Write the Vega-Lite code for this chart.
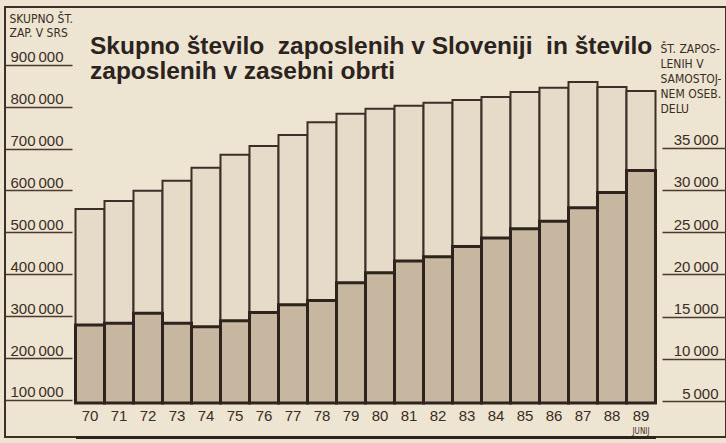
{
  "$schema": "https://vega.github.io/schema/vega-lite/v6.json",
  "width": 721,
  "height": 430,
  "autosize": {"type": "none"},
  "padding": {"left": 5, "top": 7, "right": 0, "bottom": 6},
  "background": "#eee4d2",
  "view": {"stroke": "#3b2f27", "strokeWidth": 2},
  "title": {
    "text": ["Skupno število\u00a0 zaposlenih v Sloveniji\u00a0 in število", "zaposlenih v zasebni obrti"],
    "anchor": "start",
    "frame": "group",
    "orient": "top",
    "offset": 0,
    "baseline": "top",
    "dx": 85,
    "dy": 77,
    "font": "Liberation Sans",
    "fontSize": 24.5,
    "fontWeight": "bold",
    "color": "#2b231d",
    "lineHeight": 25
  },
  "config": {
    "axis": {
      "labelFont": "Liberation Sans",
      "labelFontWeight": "normal",
      "labelColor": "#3a2d24",
      "titleFont": "Liberation Sans Narrow, DejaVu Sans Condensed, sans-serif",
      "titleColor": "#3a2d24",
      "titleFontWeight": "normal",
      "tickColor": "#4a3a2f",
      "domainColor": "#2e241d",
      "grid": false
    }
  },
  "data": {
    "values": [
      {"year": "70", "total": 556000, "private": 14000},
      {"year": "71", "total": 575000, "private": 14200},
      {"year": "72", "total": 599000, "private": 15400},
      {"year": "73", "total": 623000, "private": 14200},
      {"year": "74", "total": 654000, "private": 13800},
      {"year": "75", "total": 685000, "private": 14500},
      {"year": "76", "total": 706000, "private": 15500},
      {"year": "77", "total": 732000, "private": 16400},
      {"year": "78", "total": 763000, "private": 16900},
      {"year": "79", "total": 783000, "private": 19000},
      {"year": "80", "total": 795000, "private": 20200},
      {"year": "81", "total": 802000, "private": 21600},
      {"year": "82", "total": 809000, "private": 22100},
      {"year": "83", "total": 816000, "private": 23300},
      {"year": "84", "total": 823000, "private": 24300},
      {"year": "85", "total": 835000, "private": 25400},
      {"year": "86", "total": 845000, "private": 26300},
      {"year": "87", "total": 859000, "private": 27900},
      {"year": "88", "total": 847000, "private": 29700},
      {"year": "89", "total": 837000, "private": 32300}
    ]
  },
  "encoding": {
    "x": {
      "field": "year",
      "type": "ordinal",
      "scale": {"paddingInner": 0, "paddingOuter": 0, "range": [70.5, 650.5]},
      "axis": {
        "title": null,
        "orient": "bottom",
        "domain": true,
        "domainWidth": 3,
        "ticks": false,
        "tickSize": 0,
        "labelPadding": -22,
        "labelBaseline": "middle",
        "labelAngle": 0,
        "labelFontSize": 15
      }
    }
  },
  "layer": [
    {
      "mark": {"type": "bar", "fill": "#e6dbc9", "stroke": "#3b2f27", "strokeWidth": 2},
      "encoding": {
        "y": {
          "field": "total",
          "type": "quantitative",
          "scale": {"domain": [11700, 1037700], "nice": false, "zero": false},
          "axis": {
            "orient": "left",
            "domain": false,
            "values": [100000, 200000, 300000, 400000, 500000, 600000, 700000, 800000, 900000],
            "tickSize": -67,
            "tickWidth": 1.5,
            "labelAlign": "left",
            "labelPadding": 62,
            "labelBaseline": "alphabetic",
            "labelOffset": -3,
            "labelFontSize": 15,
            "labelExpr": "replace(format(datum.value, ','), ',', '\u2009')",
            "title": ["SKUPNO ŠT.", "ZAP. V SRS"],
            "titleX": 4,
            "titleY": 6,
            "titleAngle": 0,
            "titleAlign": "left",
            "titleBaseline": "top",
            "titleFontSize": 12,
            "titleLineHeight": 14
          }
        },
        "y2": {"datum": 93000}
      }
    },
    {
      "mark": {"type": "bar", "fill": "#c7b6a0", "stroke": "#2e241d", "strokeWidth": 3},
      "encoding": {
        "y": {
          "field": "private",
          "type": "quantitative",
          "scale": {"domain": [735, 51680], "nice": false, "zero": false},
          "axis": {
            "orient": "right",
            "domain": false,
            "values": [5000, 10000, 15000, 20000, 25000, 30000, 35000],
            "tickSize": -64,
            "tickWidth": 1.5,
            "labelAlign": "right",
            "labelPadding": 56,
            "labelBaseline": "alphabetic",
            "labelOffset": -3,
            "labelFontSize": 15,
            "labelExpr": "replace(format(datum.value, ','), ',', '\u2009')",
            "title": ["ŠT. ZAPOS-", "LENIH V", "SAMOSTOJ-", "NEM OSEB.", "DELU"],
            "titleX": -66,
            "titleY": 36,
            "titleAngle": 0,
            "titleAlign": "left",
            "titleBaseline": "top",
            "titleFontSize": 12,
            "titleLineHeight": 15
          }
        },
        "y2": {"datum": 4763}
      }
    },
    {
      "data": {"values": [{"year": "89", "note": "JUNIJ"}]},
      "mark": {"type": "text", "font": "Liberation Sans Narrow, DejaVu Sans Condensed, sans-serif", "fontSize": 8, "color": "#3a2d24", "baseline": "middle", "align": "center"},
      "encoding": {
        "text": {"field": "note"},
        "y": {"datum": 24000, "scale": {"domain": [11700, 1037700], "nice": false, "zero": false}, "axis": null}
      }
    }
  ],
  "resolve": {"scale": {"y": "independent"}}
}
